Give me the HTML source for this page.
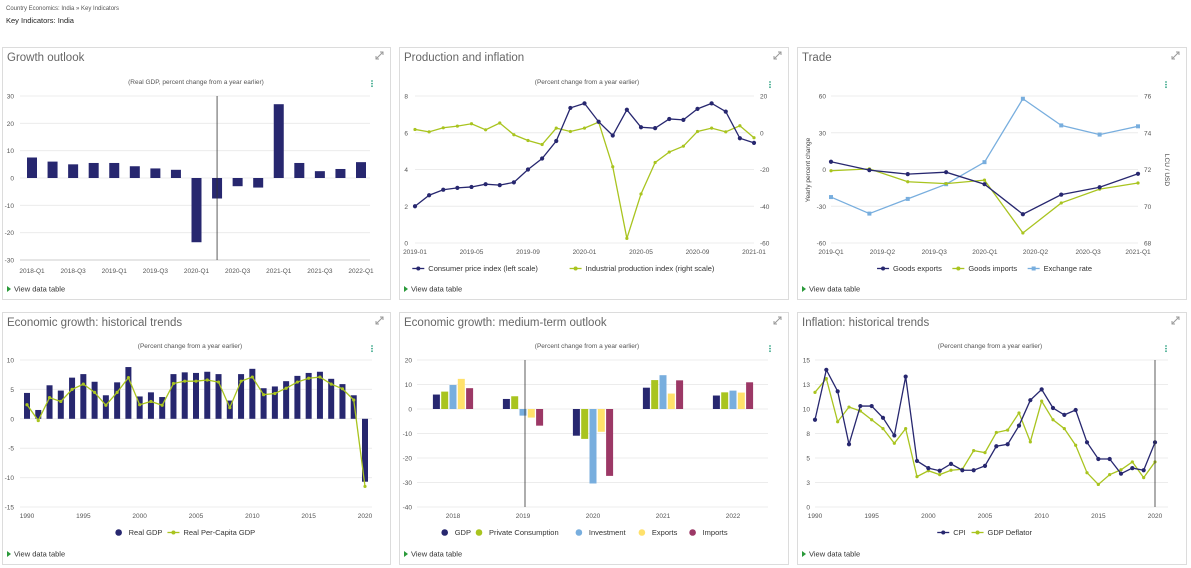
<!DOCTYPE html>
<html><head><meta charset="utf-8">
<style>
html,body{margin:0;padding:0;background:#fff;width:1191px;height:568px;overflow:hidden;font-family:"Liberation Sans",sans-serif}
svg{display:block}
text{font-family:"Liberation Sans",sans-serif}
</style></head>
<body>
<svg id="s" width="1191" height="568" viewBox="0 0 1191 568">
<text x="6" y="10" font-size="6" fill="#555">Country Economics: India  »  Key Indicators</text>
<text x="6" y="23" font-size="7.5" fill="#222">Key Indicators: India</text>
</svg>
<script>
// ---------- data ----------
const c1Cats = ['2018-Q1','','2018-Q3','','2019-Q1','','2019-Q3','','2020-Q1','','2020-Q3','','2021-Q1','','2021-Q3','','2022-Q1'];
const c1Gdp = [7.5,6,5,5.5,5.5,4.3,3.5,3,-23.5,-7.5,-3,-3.5,27,5.5,2.5,3.3,5.8];
const c1Ticks = [30,20,10,0,-10,-20,-30];

const c2Cats = ['2019-01','2019-05','2019-09','2020-01','2020-05','2020-09','2021-01'];
const c2Cpi = [2.0,2.6,2.9,3.0,3.05,3.2,3.15,3.3,4.0,4.6,5.55,7.35,7.6,6.6,5.85,7.25,6.3,6.25,6.75,6.7,7.3,7.6,7.15,5.7,5.45];
const c2Iip = [1.8,0.5,2.7,3.6,4.9,1.6,5.3,-1.1,-4.2,-6.4,2.5,0.7,2.5,5.8,-18.5,-57.5,-33.3,-16.2,-10.5,-7.3,0.7,2.5,0.5,3.8,-2.7];
const c2LeftTicks = [0,2,4,6,8];
const c2RightTicks = [-60,-40,-20,0,20];

const c3Labels = ['2019-Q1','2019-Q2','2019-Q3','2020-Q1','2020-Q2','2020-Q3','2021-Q1'];
const c3LabelAt = [0,1.34,2.69,4.01,5.33,6.7,8];
const c3Exports = [6.3,-0.5,-3.8,-2.2,-12,-36.5,-20.5,-14.5,-3.5];
const c3Imports = [-1,0.5,-10,-11.5,-8.7,-51.8,-27.3,-16,-11];
const c3Fx = [70.5,69.6,70.4,71.2,72.4,75.85,74.4,73.9,74.35];
const c3LeftTicks = [-60,-30,0,30,60];
const c3RightTicks = [68,70,72,74,76];

const c4Years = [1990,1991,1992,1993,1994,1995,1996,1997,1998,1999,2000,2001,2002,2003,2004,2005,2006,2007,2008,2009,2010,2011,2012,2013,2014,2015,2016,2017,2018,2019,2020];
const c4Gdp = [4.4,1.5,5.7,4.8,7.0,7.6,6.3,4.0,6.2,8.8,3.8,4.5,3.7,7.6,7.9,7.8,8.0,7.6,3.1,7.6,8.5,5.2,5.5,6.4,7.3,7.8,8.0,6.8,5.9,4.0,-10.7];
const c4PerCap = [2.4,-0.3,3.6,2.95,5.0,5.9,4.5,2.3,4.5,7.0,2.4,2.95,2.3,6.0,6.4,6.4,6.6,6.25,1.9,6.4,7.1,4.1,4.3,5.2,6.25,6.9,7.1,5.9,5.1,3.2,-11.5];
const c4Ticks = [10,5,0,-5,-10,-15];

const c5Years = ['2018','2019','2020','2021','2022'];
const c5Gdp = [5.9,4.1,-10.9,8.7,5.5];
const c5Cons = [7.1,5.2,-12.2,11.8,6.8];
const c5Inv = [9.8,-2.7,-30.4,13.8,7.5];
const c5Exp = [12.3,-3.5,-9.3,6.3,6.7];
const c5Imp = [8.5,-6.8,-27.3,11.7,10.9];
const c5Ticks = [20,10,0,-10,-20,-30,-40];

const c6Years = [1990,1991,1992,1993,1994,1995,1996,1997,1998,1999,2000,2001,2002,2003,2004,2005,2006,2007,2008,2009,2010,2011,2012,2013,2014,2015,2016,2017,2018,2019,2020,2021];
const c6Cpi = [8.9,14.0,11.8,6.4,10.3,10.3,9.1,7.3,13.3,4.7,3.97,3.7,4.4,3.75,3.75,4.2,6.2,6.4,8.3,10.9,12.0,10.1,9.4,9.9,6.6,4.9,4.9,3.4,3.97,3.75,6.6];
const c6Defl = [11.7,13.1,8.7,10.2,9.8,8.9,8.0,6.5,8.0,3.1,3.7,3.3,3.75,3.85,5.75,5.55,7.6,7.85,9.6,6.65,10.8,8.9,8.0,6.3,3.5,2.3,3.3,3.8,4.6,3.0,4.6];
const c6Ticks = [0,2.5,5,7.5,10,12.5,15];
const c6TickLabels = ['0','3','5','8','10','13','15'];

// ---------- helpers ----------
const NS='http://www.w3.org/2000/svg';
const S=document.getElementById('s');
const NAVY='#27276f', LIME='#a9c41f', BLUE='#78aede', YEL='#ffe16b', MAR='#9c3866';
function mk(tag,attrs,name,inter,parent){
  const el=document.createElementNS(NS,tag);
  for(const k in attrs) el.setAttribute(k,attrs[k]);
  
  
  (parent||S).appendChild(el);
  return el;
}
function txt(x,y,s,size,fill,anchor,name,inter,extra){
  const t=mk('text',Object.assign({x:x,y:y,'font-size':size,fill:fill,'text-anchor':anchor||'start'},extra||{}),name,inter);
  t.textContent=s;return t;
}
function lin(d0,d1,r0,r1){return v=>r0+(v-d0)/(d1-d0)*(r1-r0);}
function panel(x,y,w,h,title,id){
  mk('rect',{x:x+.5,y:y+.5,width:w,height:h,fill:'#fff',stroke:'#dcdcdc'},id+'-panel',false);
  txt(x+5,y+14,title,11.5,'#666','start',id+'-title',false);
  const ex=x+w-10, ey=y+8;
  mk('path',{d:`M${ex-4} ${ey+4}L${ex+3} ${ey-3}M${ex} ${ey-3}h3v3M${ex-4} ${ey+1}v3h3`,stroke:'#999','stroke-width':1,fill:'none'},id+'-expand-icon',true);
  mk('path',{d:`M${x+5} ${y+h-13}l4 3l-4 3z`,fill:'#2a9a3a'},id+'-view-table-arrow',true);
  txt(x+12,y+h-7.5,'View data table',7.5,'#333','start',id+'-view-data-table',true);
}
function menu(x,y,id){
  for(let i=0;i<3;i++) mk('circle',{cx:x,cy:y+i*2.6,r:0.9,fill:'#3aa88a'},id+'-menu-dot',true);
}
function grid(ticks,yS,x0,x1,id){
  ticks.forEach(t=>{mk('line',{x1:x0,x2:x1,y1:yS(t),y2:yS(t),stroke:'#ececec'},id+'-gridline',false);});
}
function line(xs,ys,color,id,marker){
  const d=xs.map((x,i)=>(i?'L':'M')+x+' '+ys[i]).join('');
  mk('path',{d:d,fill:'none',stroke:color,'stroke-width':1.3},id+'-line',false);
  xs.forEach((x,i)=>{
    if(marker==='sq') mk('rect',{x:x-2,y:ys[i]-2,width:4,height:4,fill:color},id+'-point',false);
    else mk('circle',{cx:x,cy:ys[i],r:marker==='small'?1.6:2.1,fill:color},id+'-point',false);
  });
}
function legend(items,cx,y,id){
  let total=0;const widths=items.map(it=>it[0].length*4.1+22);widths.forEach(w=>total+=w);
  let x=cx-total/2;
  items.forEach((it,i)=>{
    if(it[2]==='line'){mk('line',{x1:x,x2:x+12,y1:y-2.5,y2:y-2.5,stroke:it[1],'stroke-width':1.3},id+'-legend-line',true);
      mk('circle',{cx:x+6,cy:y-2.5,r:2,fill:it[1]},id+'-legend-marker',true);}
    else if(it[2]==='sqline'){mk('line',{x1:x,x2:x+12,y1:y-2.5,y2:y-2.5,stroke:it[1],'stroke-width':1.3},id+'-legend-line',true);
      mk('rect',{x:x+4,y:y-4.5,width:4,height:4,fill:it[1]},id+'-legend-marker',true);}
    else mk('circle',{cx:x+6,cy:y-2.5,r:3.3,fill:it[1]},id+'-legend-marker',true);
    txt(x+16,y,it[0],7.5,'#333','start',id+'-legend-entry',true);
    x+=widths[i];
  });
}

// ---------- chart 1 ----------
panel(2,47,388,252,'Growth outlook','growth-outlook');
txt(196,84,'(Real GDP, percent change from a year earlier)',6.5,'#555','middle','c1-subtitle',false);
menu(372,81,'c1');
(function(){
  const y=lin(-30,30,260,96), x=lin(0,c1Gdp.length-1,32,361);
  grid(c1Ticks,y,20,370,'c1');
  c1Ticks.forEach(t=>txt(14,y(t)+2.5,String(t),6.5,'#555','end','c1-y-tick',false));
  mk('line',{x1:20,x2:370,y1:260,y2:260,stroke:'#ccc'},'c1-x-axis',false);
  c1Gdp.forEach((v,i)=>{mk('rect',{x:x(i)-5,y:Math.min(y(v),y(0)),width:10,height:Math.abs(y(v)-y(0)),fill:NAVY},'c1-bar-'+i,false);});
  c1Cats.forEach((c,i)=>{if(c) txt(x(i),273,c,6.5,'#555','middle','c1-x-tick',false);});
  mk('line',{x1:x(9),x2:x(9),y1:96,y2:260,stroke:'#333','stroke-width':0.8},'c1-forecast-line',false);
})();

// ---------- chart 2 ----------
panel(399,47,389,252,'Production and inflation','production-inflation');
txt(587,84,'(Percent change from a year earlier)',6.5,'#555','middle','c2-subtitle',false);
menu(770,82,'c2');
(function(){
  const yl=lin(0,8,243,96), yr=lin(-60,20,243,96), x=lin(0,24,415,754);
  grid(c2LeftTicks,yl,415,754,'c2');
  c2LeftTicks.forEach(t=>txt(408,yl(t)+2.5,String(t),6.5,'#555','end','c2-left-tick',false));
  c2RightTicks.forEach(t=>txt(760,yr(t)+2.5,String(t),6.5,'#555','start','c2-right-tick',false));
  c2Cats.forEach((c,i)=>txt(x(i*4),254,c,6.5,'#555','middle','c2-x-tick',false));
  const xs=c2Cpi.map((v,i)=>x(i));
  line(xs,c2Iip.map(yr),LIME,'c2-iip','small');
  line(xs,c2Cpi.map(yl),NAVY,'c2-cpi');
  legend([['Consumer price index (left scale)',NAVY,'line'],['Industrial production index (right scale)',LIME,'line']],586,271,'c2');
})();

// ---------- chart 3 ----------
panel(797,47,389,252,'Trade','trade');
menu(1166,82,'c3');
(function(){
  const yl=lin(-60,60,243,96), yr=lin(68,76,243,96), x=lin(0,8,831,1138);
  grid(c3LeftTicks,yl,831,1138,'c3');
  c3LeftTicks.forEach(t=>txt(826,yl(t)+2.5,String(t),6.5,'#555','end','c3-left-tick',false));
  c3RightTicks.forEach(t=>txt(1144,yr(t)+2.5,String(t),6.5,'#555','start','c3-right-tick',false));
  c3Labels.forEach((c,i)=>txt(x(c3LabelAt[i]),254,c,6.5,'#555','middle','c3-x-tick',false));
  txt(0,0,'Yearly percent change',6.5,'#444','middle','c3-left-axis-title',false,{transform:'translate(810,170) rotate(-90)'});
  txt(0,0,'LCU / USD',6.5,'#444','middle','c3-right-axis-title',false,{transform:'translate(1165,170) rotate(90)'});
  const xs=c3Fx.map((v,i)=>x(i));
  line(xs,c3Fx.map(yr),BLUE,'c3-fx','sq');
  line(xs,c3Imports.map(yl),LIME,'c3-imports','small');
  line(xs,c3Exports.map(yl),NAVY,'c3-exports');
  legend([['Goods exports',NAVY,'line'],['Goods imports',LIME,'line'],['Exchange rate',BLUE,'sqline']],990,271,'c3');
})();

// ---------- chart 4 ----------
panel(2,312,388,252,'Economic growth: historical trends','growth-historical');
txt(190,348,'(Percent change from a year earlier)',6.5,'#555','middle','c4-subtitle',false);
menu(372,346,'c4');
(function(){
  const y=lin(-15,10,507,360), x=lin(1990,2020,27,365);
  grid(c4Ticks,y,20,372,'c4');
  c4Ticks.forEach(t=>txt(14,y(t)+2.5,String(t),6.5,'#555','end','c4-y-tick',false));
  [1990,1995,2000,2005,2010,2015,2020].forEach(t=>txt(x(t),518,String(t),6.5,'#555','middle','c4-x-tick',false));
  c4Gdp.forEach((v,i)=>{mk('rect',{x:x(c4Years[i])-3,y:Math.min(y(v),y(0)),width:6,height:Math.abs(y(v)-y(0)),fill:NAVY},'c4-bar-'+c4Years[i],false);});
  line(c4Years.map(x),c4PerCap.map(y),LIME,'c4-percapita','small');
  legend([['Real GDP',NAVY,'dot'],['Real Per-Capita GDP',LIME,'line']],190,535,'c4');
})();

// ---------- chart 5 ----------
panel(399,312,389,252,'Economic growth: medium-term outlook','growth-medium-term');
txt(587,348,'(Percent change from a year earlier)',6.5,'#555','middle','c5-subtitle',false);
menu(770,346,'c5');
(function(){
  const y=lin(-40,20,507,360), x=lin(0,4,453,733);
  grid(c5Ticks,y,417,768,'c5');
  c5Ticks.forEach(t=>txt(412,y(t)+2.5,String(t),6.5,'#555','end','c5-y-tick',false));
  c5Years.forEach((c,i)=>txt(x(i),518,c,6.5,'#555','middle','c5-x-tick',false));
  const series=[[c5Gdp,NAVY,'gdp'],[c5Cons,LIME,'consumption'],[c5Inv,BLUE,'investment'],[c5Exp,YEL,'exports'],[c5Imp,MAR,'imports']];
  series.forEach((s,j)=>{
    s[0].forEach((v,i)=>{
      const cx=x(i)+(j-2)*8.3;
      mk('rect',{x:cx-3.5,y:Math.min(y(v),y(0)),width:7,height:Math.abs(y(v)-y(0)),fill:s[1]},'c5-bar-'+s[2]+'-'+c5Years[i],false);
    });
  });
  mk('line',{x1:525,x2:525,y1:360,y2:507,stroke:'#333','stroke-width':0.8},'c5-forecast-line',false);
  legend([['GDP',NAVY,'dot'],['Private Consumption',LIME,'dot'],['Investment',BLUE,'dot'],['Exports',YEL,'dot'],['Imports',MAR,'dot']],588,535,'c5');
})();

// ---------- chart 6 ----------
panel(797,312,389,252,'Inflation: historical trends','inflation-historical');
txt(990,348,'(Percent change from a year earlier)',6.5,'#555','middle','c6-subtitle',false);
menu(1166,346,'c6');
(function(){
  const y=lin(0,15,507,360), x=lin(1990,2020,815,1155);
  grid(c6Ticks,y,815,1168,'c6');
  c6Ticks.forEach((t,i)=>txt(810,y(t)+2.5,c6TickLabels[i],6.5,'#555','end','c6-y-tick',false));
  [1990,1995,2000,2005,2010,2015,2020].forEach(t=>txt(x(t),518,String(t),6.5,'#555','middle','c6-x-tick',false));
  line(c6Defl.map((v,i)=>x(c6Years[i])),c6Defl.map(y),LIME,'c6-deflator','small');
  line(c6Cpi.map((v,i)=>x(c6Years[i])),c6Cpi.map(y),NAVY,'c6-cpi');
  mk('line',{x1:x(2020),x2:x(2020),y1:360,y2:507,stroke:'#333','stroke-width':0.8},'c6-forecast-line',false);
  legend([['CPI',NAVY,'line'],['GDP Deflator',LIME,'line']],990,535,'c6');
})();
</script>
</body></html>
